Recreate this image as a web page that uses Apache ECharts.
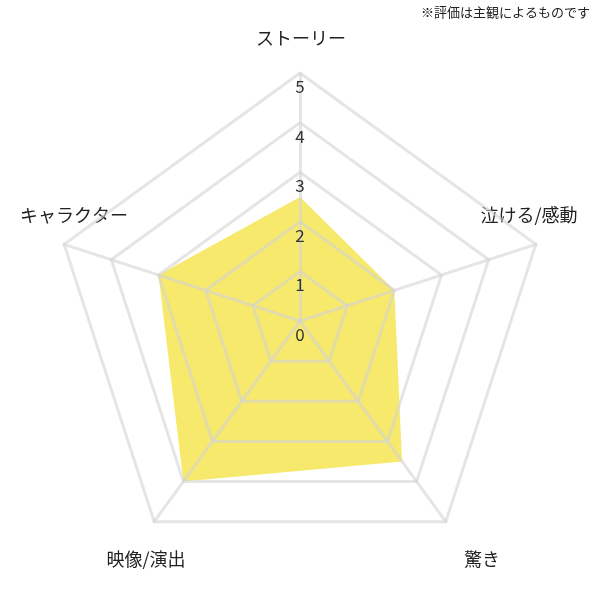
<!DOCTYPE html>
<html>
<head>
<meta charset="utf-8">
<script src="https://cdn.jsdelivr.net/npm/echarts@6/dist/echarts.min.js"></script>
<style>
  html, body { margin: 0; padding: 0; background: #fff; }
  #main { width: 600px; height: 600px; }
</style>
</head>
<body>
<div id="main"></div>
<script>
// clockwise from the top, as in the picture
const categories = ['ストーリー', '泣ける/感動', '驚き', '映像/演出', 'キャラクター'];
const scores = [2.5, 2, 3.5, 4, 3];
const maxScore = 5;
const note = '※評価は主観によるものです';

// where each axis name sits (text centre)
const namePos = [[301, 38], [529, 215], [482, 559], [146, 559], [74, 215]];

// echarts lays radar indicators out counter-clockwise, so flip the order after the first
const order = [0, 4, 3, 2, 1];

const FONT = '"Noto Sans CJK JP", "Noto Sans", sans-serif';
const chart = echarts.init(document.getElementById('main'));

const option = {
  animation: false,
  title: {
    text: note,
    right: 5,
    top: 1,
    textStyle: {fontSize: 13, fontWeight: 'normal', color: '#222', fontFamily: FONT}
  },
  radar: {
    center: ['50%', 321],
    radius: 248,
    shape: 'polygon',
    splitNumber: 5,
    z: 3,
    axisName: {show: false},
    axisLine: {lineStyle: {color: 'rgba(212,212,212,0.6)', width: 3}},
    splitLine: {lineStyle: {color: 'rgba(212,212,212,0.6)', width: 3}},
    splitArea: {show: false},
    axisLabel: {show: false},
    indicator: order.map((k, i) => {
      const ind = {name: categories[k], min: 0, max: maxScore};
      if (i === 0) {
        ind.axisLabel = {
          show: true,
          margin: 0,
          align: 'center',
          verticalAlign: 'top',
          padding: [5, 0, 0, 0],
          fontSize: 17,
          color: '#333',
          fontFamily: FONT
        };
      }
      return ind;
    })
  },
  graphic: categories.map((name, i) => ({
    type: 'text',
    x: namePos[i][0],
    y: namePos[i][1],
    style: {
      text: name,
      fill: '#222',
      font: '18px ' + FONT,
      align: 'center',
      verticalAlign: 'middle'
    }
  })),
  series: [{
    type: 'radar',
    z: 1,
    symbol: 'none',
    lineStyle: {width: 0, opacity: 0},
    areaStyle: {color: '#f6e96b', opacity: 1},
    data: [{value: order.map((k) => scores[k]), name: '評価'}]
  }]
};
chart.setOption(option);
</script>
</body>
</html>
